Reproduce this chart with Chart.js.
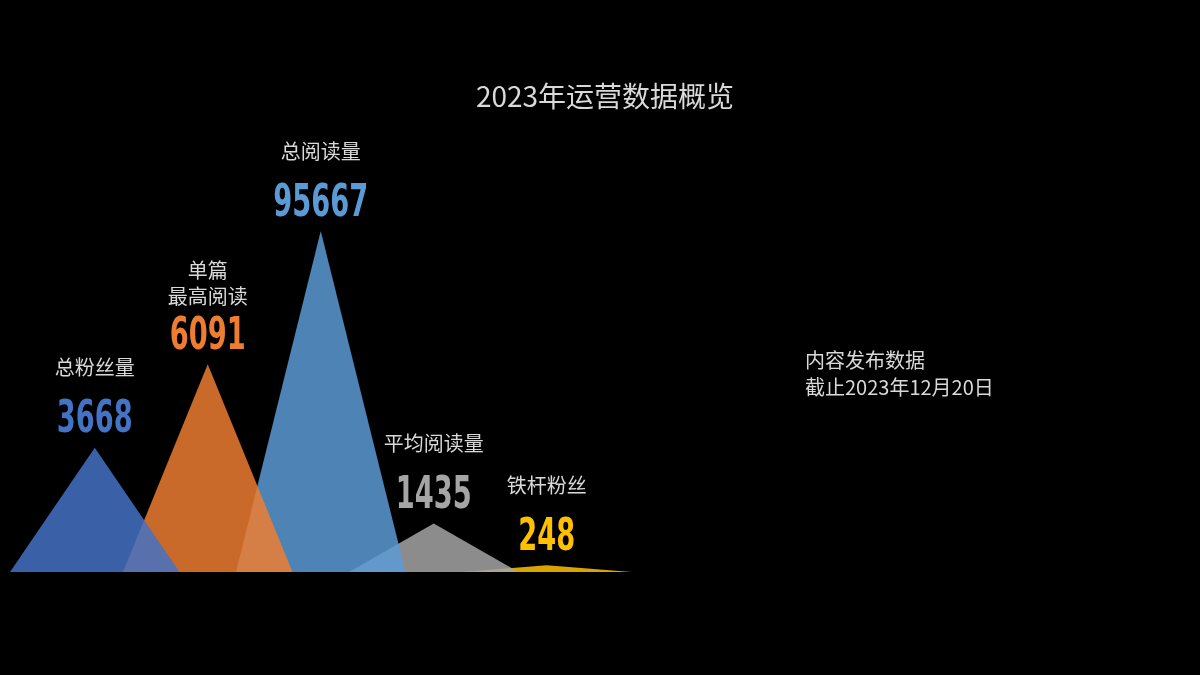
<!DOCTYPE html>
<html>
<head>
<meta charset="utf-8">
<script src="https://cdn.jsdelivr.net/npm/chart.js@4"></script>
<style>
  html, body { margin: 0; padding: 0; background: #000; }
  #wrap { width: 1200px; height: 675px; position: relative; }
</style>
</head>
<body>
<div id="wrap"><canvas id="chart" width="1200" height="675"></canvas></div>
<script>
// Data
const names = [['总粉丝量'], ['单篇', '最高阅读'], ['总阅读量'], ['平均阅读量'], ['铁杆粉丝']];
const values = [3668, 6091, 95667, 1435, 248];
// Displayed peak heights (the picture does not scale them to the values)
const peakHeights = [128, 214, 351, 50, 7];
const fills = ['rgba(68,114,196,0.85)', 'rgba(237,125,49,0.85)', 'rgba(91,155,213,0.85)', 'rgba(165,165,165,0.85)', 'rgba(255,192,0,0.85)'];
const numColors = ['#4472c4', '#ed7d31', '#5b9bd5', '#a5a5a5', '#ffc000'];

const halfWidth = 0.75;

const datasets = values.map((v, i) => ({
    label: names[i].join(''),
    data: [
        { x: i - halfWidth, y: 0 },
        { x: i, y: peakHeights[i] },
        { x: i + halfWidth, y: 0 }
    ],
    backgroundColor: fills[i],
    borderWidth: 0,
    pointRadius: 0,
    fill: 'origin',
    tension: 0
}));

// Labels above each peak
const peakLabels = {
    id: 'peakLabels',
    afterDatasetsDraw(chart) {
        const ctx = chart.ctx;
        const xs = chart.scales.x, ys = chart.scales.y;
        ctx.save();
        ctx.textAlign = 'center';
        ctx.textBaseline = 'middle';
        values.forEach((v, i) => {
            const px = xs.getPixelForValue(i);
            const py = ys.getPixelForValue(peakHeights[i]);
            // number, condensed
            ctx.save();
            ctx.translate(px, py - 27);
            ctx.scale(0.62, 1);
            ctx.fillStyle = numColors[i];
            ctx.font = 'bold 44px "DejaVu Sans"';
            ctx.fillText(String(v), 0, 0);
            ctx.restore();
            // name
            ctx.fillStyle = '#d9d9d9';
            ctx.font = '20px "Noto Sans CJK SC"';
            const lines = names[i];
            lines.forEach((ln, k) => {
                const off = i === 1 ? 68 : 80;
                ctx.fillText(ln, px, py - off - (lines.length - 1 - k) * 26);
            });
        });
        // side note
        ctx.textAlign = 'left';
        ctx.fillStyle = '#d9d9d9';
        ctx.font = '20px "Noto Sans CJK SC"';
        ctx.fillText('内容发布数据', 805, 360);
        ctx.fillText('截止2023年12月20日', 805, 387);
        ctx.restore();
    }
};

new Chart(document.getElementById('chart').getContext('2d'), {
    type: 'line',
    data: { datasets },
    options: {
        responsive: false,
        animation: false,
        layout: { padding: { left: 10, right: 0, top: 0, bottom: 103 } },
        scales: {
            x: { type: 'linear', min: -halfWidth, max: -halfWidth + 1190 / 113, display: false },
            y: { min: 0, max: 472, display: false }
        },
        plugins: {
            legend: { display: false },
            tooltip: { enabled: false },
            title: {
                display: true,
                text: '2023年运营数据概览',
                color: '#d9d9d9',
                font: { family: '"Noto Sans CJK SC"', size: 28, weight: 'normal' },
                padding: { top: 80, bottom: 0 },
                align: 'center'
            }
        }
    },
    plugins: [peakLabels, {
        id: 'bg',
        beforeDraw(chart) {
            const c = chart.ctx;
            c.save();
            c.fillStyle = '#000';
            c.fillRect(0, 0, chart.width, chart.height);
            c.restore();
        }
    }]
});
</script>
</body>
</html>
